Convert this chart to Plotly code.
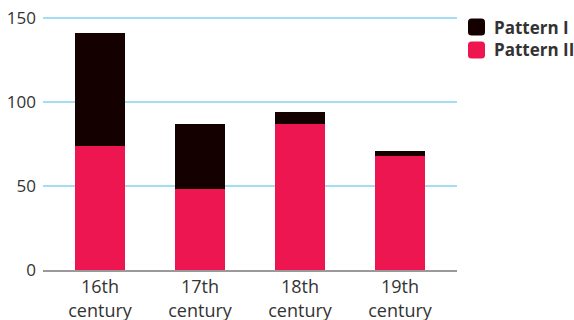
import plotly.graph_objects as go

# Data
centuries = ["16th century", "17th century", "18th century", "19th century"]
tick_labels = ["16th<br>century", "17th<br>century", "18th<br>century", "19th<br>century"]
pattern_1 = [67, 39, 7, 3]
pattern_2 = [74, 48, 87, 68]
y_ticks = [0, 50, 100, 150]

PINK = "#EE1651"
DARK = "#150000"
GRID = "#A3DDF3"
TEXT = "#333333"
FONT = "Open Sans"

W, H = 574, 320
ML, MR, MT, MB = 43, 117, 16, 50
PW, PH = W - ML - MR, H - MT - MB

fig = go.Figure()
fig.add_trace(go.Bar(x=centuries, y=pattern_2, name="Pattern II",
                     marker=dict(color=PINK, line=dict(width=0)), width=0.5,
                     showlegend=False))
fig.add_trace(go.Bar(x=centuries, y=pattern_1, name="Pattern I",
                     marker=dict(color=DARK, line=dict(width=0)), width=0.5,
                     showlegend=False))


def px_to_paper(x, y):
    return (x - ML) / PW, (H - MB - y) / PH


def rounded_rect(x0, y0, x1, y1, r):
    def p(x, y):
        a, b = px_to_paper(x, y)
        return f"{a:.5f},{b:.5f}"
    return (f"M{p(x0 + r, y0)} L{p(x1 - r, y0)} Q{p(x1, y0)} {p(x1, y0 + r)} "
            f"L{p(x1, y1 - r)} Q{p(x1, y1)} {p(x1 - r, y1)} "
            f"L{p(x0 + r, y1)} Q{p(x0, y1)} {p(x0, y1 - r)} "
            f"L{p(x0, y0 + r)} Q{p(x0, y0)} {p(x0 + r, y0)} Z")


# Legend drawn as rounded swatches with labels
legend_items = [("Pattern I", DARK, 27), ("Pattern II", PINK, 50)]
shapes = []
annotations = []
for label, color, cy in legend_items:
    shapes.append(dict(type="path", xref="paper", yref="paper",
                       path=rounded_rect(468, cy - 8.5, 485, cy + 8.5, 3.5),
                       fillcolor=color, line=dict(width=0), layer="above"))
    ax, ay = px_to_paper(492, cy)
    annotations.append(dict(x=ax, y=ay, xref="paper", yref="paper",
                            text=f"<b>{label}</b>", showarrow=False,
                            xanchor="left", yanchor="middle",
                            font=dict(family=FONT, size=17, color=TEXT)))

fig.update_layout(
    barmode="stack",
    width=W, height=H,
    margin=dict(l=ML, r=MR, t=MT, b=MB),
    paper_bgcolor="white", plot_bgcolor="white",
    shapes=shapes, annotations=annotations,
    showlegend=False,
    font=dict(family=FONT, color=TEXT),
)
fig.update_xaxes(
    type="category", range=[-0.57, 3.57],
    tickvals=centuries, ticktext=tick_labels,
    tickfont=dict(family=FONT, size=18, color=TEXT),
    showgrid=False, showline=True, linecolor="#999999", linewidth=1.5,
    ticks="", zeroline=False, automargin=False,
)
fig.update_yaxes(
    range=[0, 151], tickvals=y_ticks,
    tickfont=dict(family=FONT, size=17, color=TEXT),
    showgrid=True, gridcolor=GRID, gridwidth=2,
    zeroline=False, showline=False, ticks="", ticklabelstandoff=6,
    automargin=False,
)

fig.write_html("out.html")
